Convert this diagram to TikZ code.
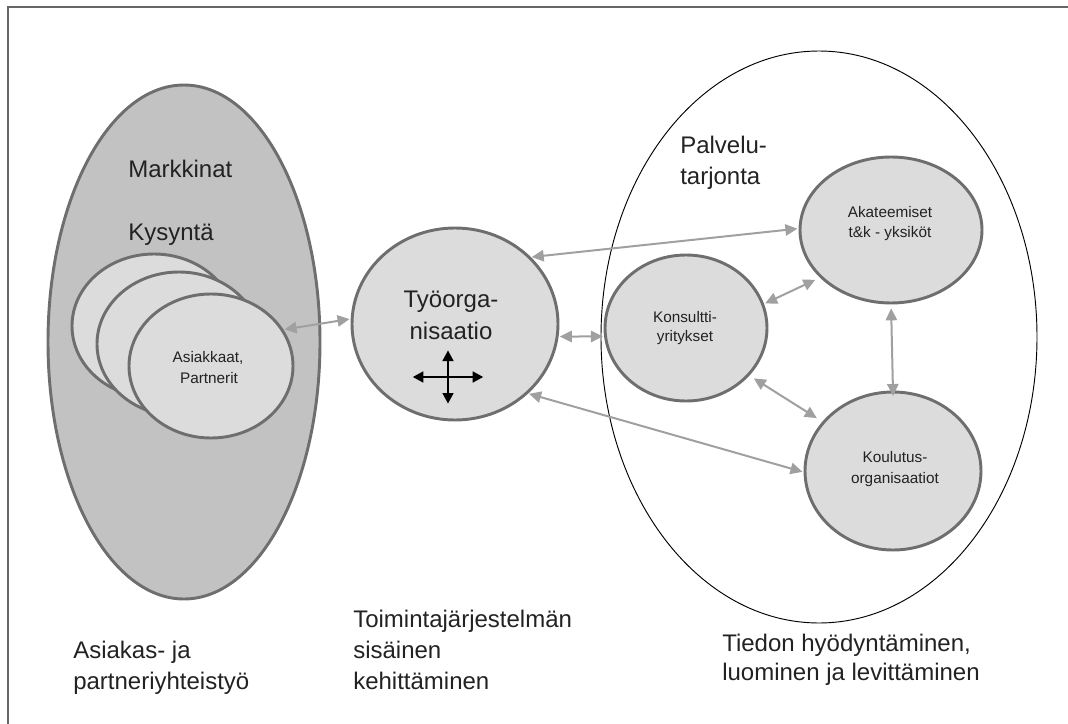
\documentclass[tikz,border=0pt]{standalone}
\usepackage{fontspec}
\setmainfont{Liberation Sans}
\usetikzlibrary{shapes.geometric,arrows.meta}
\definecolor{framegray}{HTML}{666666}
\definecolor{outgray}{HTML}{6E6E6E}
\definecolor{darkfill}{HTML}{C2C2C2}
\definecolor{lightfill}{HTML}{DCDCDC}
\definecolor{arrgray}{HTML}{A0A0A0}
\definecolor{txt}{HTML}{222222}
\tikzset{
  market/.style={ellipse, draw=outgray, line width=2.2pt, fill=darkfill, inner sep=0pt, outer sep=0pt},
  blob/.style={ellipse, draw=outgray, line width=2.2pt, fill=lightfill, inner sep=0pt, outer sep=0pt},
  offer/.style={ellipse, draw=black, line width=0.7pt, inner sep=0pt, outer sep=0pt},
  bigtext/.style={font=\fontsize{18}{22}\selectfont, text=txt, inner sep=0pt, anchor=base west},
  bigc/.style={font=\fontsize{18}{22}\selectfont, text=txt, inner sep=0pt, anchor=base},
  smalltext/.style={font=\fontsize{11.5}{14}\selectfont, text=txt, inner sep=0pt, anchor=base},
  link/.style={draw=arrgray, line width=1.5pt, {Triangle[length=9pt,width=8.5pt]}-{Triangle[length=9pt,width=8.5pt]}, shorten <=2pt, shorten >=2pt},
  movearr/.style={draw=black, line width=1.9pt, {Triangle[length=8pt,width=8pt]}-{Triangle[length=8pt,width=8pt]}},
  framedge/.style={draw=framegray, line width=1.6pt}
}
\begin{document}
\begin{tikzpicture}[x=0.75pt,y=-0.75pt]
\useasboundingbox (0,0) rectangle (1068,724);
% frame (top and left edges)
\coordinate (fbl) at (8,724);
\coordinate (ftl) at (8,7);
\coordinate (ftr) at (1068,7);
\draw[framedge] (fbl) -- (ftl) -- (ftr);

% left: market
\node[market, minimum width=204pt, minimum height=385.5pt] (mark) at (184,342) {};
\node[bigtext] (markt) at (128,177) {Markkinat};
\node[bigtext] (kysy) at (128,240) {Kysyntä};
\node[blob, minimum width=123pt, minimum height=108pt] (c1) at (154,326) {};
\node[blob, minimum width=123pt, minimum height=108pt] (c2) at (179,344) {};
\node[blob, minimum width=123pt, minimum height=108pt] (asi) at (211,366) {};
\node[smalltext] (asi1) at (208,362) {Asiakkaat,};
\node[smalltext] (asi2) at (209,383) {Partnerit};

% centre: work organisation
\node[blob, minimum width=154.5pt, minimum height=144pt] (tyo) at (455,324) {};
\node[bigc] (tyo1) at (451,307) {Työorga-};
\node[bigc] (tyo2) at (451,339) {nisaatio};
\coordinate (mv) at (448,377);
\draw[movearr] ([xshift=-26.5pt]mv) -- ([xshift=26.5pt]mv);
\draw[movearr] ([yshift=20pt]mv) -- ([yshift=-20pt]mv);

% right: service offering
\node[offer, minimum width=327pt, minimum height=429pt] (palv) at (819,337) {};
\node[bigtext] (palv1) at (680,153) {Palvelu-};
\node[bigtext] (palv2) at (680,185) {tarjonta};
\node[blob, minimum width=136.5pt, minimum height=109.5pt] (aka) at (891,230) {};
\node[smalltext] (aka1) at (890,217) {Akateemiset};
\node[smalltext] (aka2) at (890,237) {t\&k - yksiköt};
\node[blob, minimum width=121.5pt, minimum height=109.5pt] (kon) at (686,328) {};
\node[smalltext] (kon1) at (685,322) {Konsultti-};
\node[smalltext] (kon2) at (685,341) {yritykset};
\node[blob, minimum width=132pt, minimum height=118.5pt] (kou) at (893,471) {};
\node[smalltext] (kou1) at (895,462) {Koulutus-};
\node[smalltext] (kou2) at (895,483) {organisaatiot};

% connectors
\draw[link] (asi.27.5) -- (tyo.177);
\draw[link] (tyo.-7.3) -- (kon.186);
\draw[link] (tyo.42.5) -- (aka.179);
\draw[link] (tyo.-44.6) -- (kou.181);
\draw[link, shorten >=5pt] (kon.17) -- (aka.214);
\draw[link, shorten <=5pt, shorten >=6pt] (kon.-37) -- (kou.145);
\draw[link, shorten <=4pt, shorten >=-3pt] (aka.-90) -- (kou.90);

% bottom captions
\node[bigtext] (b1a) at (73,658) {Asiakas- ja};
\node[bigtext] (b1b) at (73,689) {partneriyhteistyö};
\node[bigtext] (b2a) at (353,627) {Toimintajärjestelmän};
\node[bigtext] (b2b) at (353,658) {sisäinen};
\node[bigtext] (b2c) at (353,689) {kehittäminen};
\node[bigtext] (b3a) at (722,651) {Tiedon hyödyntäminen,};
\node[bigtext] (b3b) at (722,680) {luominen ja levittäminen};
\end{tikzpicture}
\end{document}
